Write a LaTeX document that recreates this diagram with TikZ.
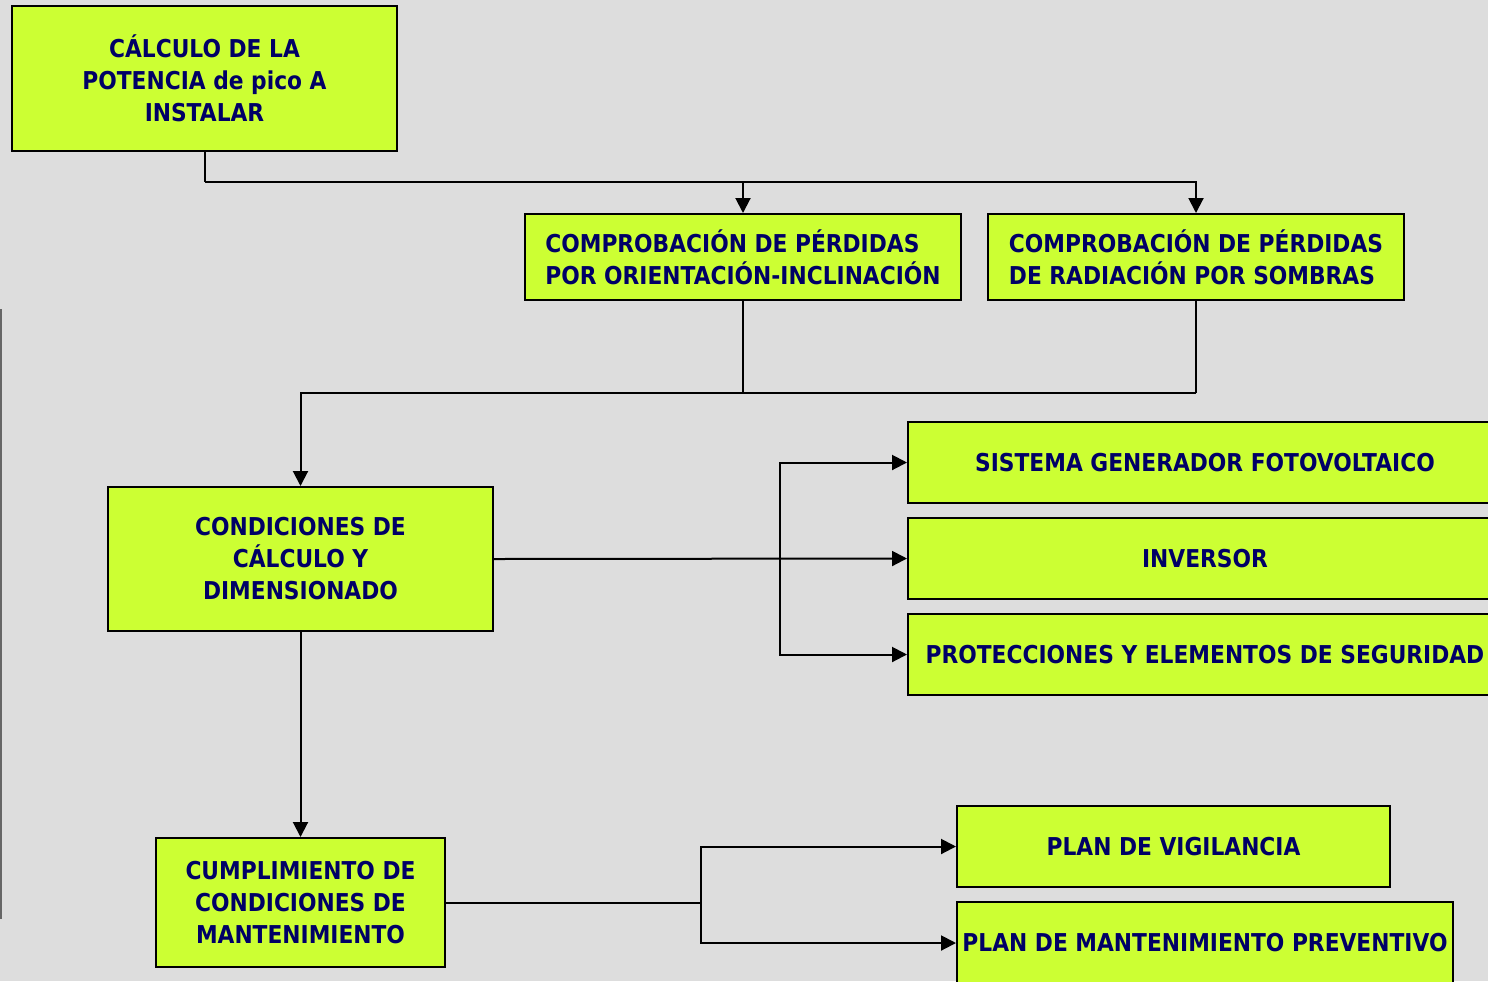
\documentclass[tikz,border=0pt]{standalone}
\usepackage{fontspec}
\newfontfamily\boxfont{DejaVu Sans Bold}[FakeStretch=0.885]
\usetikzlibrary{arrows.meta}
\definecolor{bgcol}{HTML}{DDDDDD}
\definecolor{boxfill}{HTML}{CCFF33}
\definecolor{ink}{HTML}{000066}
\definecolor{rulecol}{HTML}{666666}
\begin{document}
\begin{tikzpicture}[x=0.5pt,y=-0.5pt,
  card/.style={draw=black,line width=1pt,fill=boxfill,text=ink,
    font=\boxfont\fontsize{12.3pt}{16pt}\selectfont,inner sep=0pt,align=center},
  link/.style={line width=1pt},
  arr/.style={link,-{Triangle[length=7.5pt,width=7.5pt]}},
]
\useasboundingbox (0,0) rectangle (1488,981);
\clip (0,0) rectangle (1488,981);
\fill[bgcol] (0,0) rectangle (1488,981);
\draw[rulecol,line width=1pt] (1,309) -- (1,919);

% boxes
\node[card,minimum width=192.5pt,minimum height=72.5pt] (calc) at (204.5,78.5)
  {CÁLCULO DE LA\\POTENCIA de pico A\\INSTALAR};
\node[card,minimum width=218pt,minimum height=43pt,align=left] (orient) at (743,257)
  {COMPROBACIÓN DE PÉRDIDAS\\POR ORIENTACIÓN-INCLINACIÓN};
\node[card,minimum width=208pt,minimum height=43pt,align=left] (sombra) at (1196,257)
  {COMPROBACIÓN DE PÉRDIDAS\\DE RADIACIÓN POR SOMBRAS};
\node[card,minimum width=192.5pt,minimum height=72pt] (cond) at (300.5,559)
  {CONDICIONES DE\\CÁLCULO Y\\DIMENSIONADO};
\node[card,minimum width=297pt,minimum height=40.5pt] (gen) at (1205,462.5)
  {SISTEMA GENERADOR FOTOVOLTAICO};
\node[card,minimum width=297pt,minimum height=40.5pt] (inv) at (1205,558.5)
  {INVERSOR};
\node[card,minimum width=297pt,minimum height=40.5pt] (prot) at (1205,654.5)
  {PROTECCIONES Y ELEMENTOS DE SEGURIDAD};
\node[card,minimum width=144.5pt,minimum height=64.5pt] (maint) at (300.5,902.5)
  {CUMPLIMIENTO DE\\CONDICIONES DE\\MANTENIMIENTO};
\node[card,minimum width=216.5pt,minimum height=40.5pt] (vig) at (1173.5,846.5)
  {PLAN DE VIGILANCIA};
\node[card,minimum width=248pt,minimum height=41pt] (prev) at (1205,943)
  {PLAN DE MANTENIMIENTO PREVENTIVO};

% junction points
\coordinate (busA) at (204.5,182);
\coordinate (busB) at (743,393);
\coordinate (busC) at (1196,393);
\coordinate (forkD) at (780,559);
\coordinate (forkH) at (701,902.5);

% connectors
\draw[link] (calc.south) -- (busA);
\draw[arr] (busA) -| (orient.north);
\draw[arr] (busA) -| (sombra.north);
\draw[link] (orient.south) -- (busB);
\draw[link] (sombra.south) -- (busC);
\draw[arr] (busC) -| (cond.north);
\draw[arr] (cond.east) -- (inv.west);
\draw[arr] (forkD) |- (gen.west);
\draw[arr] (forkD) |- (prot.west);
\draw[arr] (cond.south) -- (maint.north);
\draw[link] (maint.east) -- (forkH);
\draw[arr] (forkH) |- (vig.west);
\draw[arr] (forkH) |- (prev.west);
\end{tikzpicture}
\end{document}
